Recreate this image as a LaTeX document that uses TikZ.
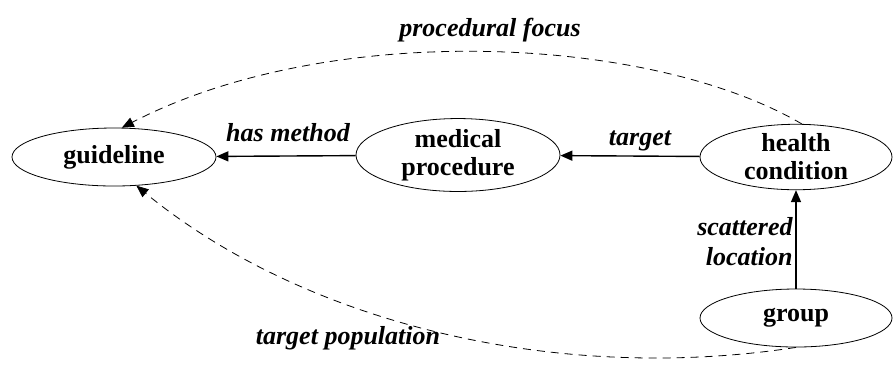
\documentclass[tikz,border=0pt]{standalone}
\usepackage{fontspec}
\setmainfont{Liberation Serif}
\usepackage{tikz}
\usetikzlibrary{arrows.meta,shapes.geometric}
\tikzset{
  concept/.style={ellipse, draw, thin, minimum width=100pt, minimum height=29pt, inner sep=0pt, align=center, font=\fontsize{13}{14}\selectfont\bfseries},
  rel/.style={-{Triangle[length=6pt,width=5pt]}, line width=0.7pt},
  hint/.style={-{Triangle[length=6pt,width=5pt]}, thin, dash pattern=on 4pt off 3pt},
  edgelabel/.style={font=\fontsize{13}{15}\selectfont\bfseries\itshape, align=right, inner sep=1pt}
}

\begin{document}
\begin{tikzpicture}[x=0.5pt,y=-0.5pt]
            \useasboundingbox (0,0) rectangle (893,372);
            \node[concept, minimum width=102pt] (guide) at (114,157) {guideline};
            \node[concept, minimum width=102pt] (proc) at (458,155) {medical\\procedure};
            \node[concept, minimum width=96pt] (health) at (796,157) {health\\condition};
            \node[concept, minimum width=96pt] (group) at (796,318) {group};
            \draw[rel] (proc) -- (guide);
            \draw[rel] (health) -- (proc);
            \draw[rel] (group) -- (health);
            \draw[hint] (health.80) .. controls (650,35) and (330,20) .. (guide.75);
            \draw[hint] (group.south) .. controls (550,385) and (300,320) .. (guide.-52);
            \node[edgelabel] (lmethod) at (288,133) {has method};
            \node[edgelabel] (ltarget) at (640,141) {target};
            \node[edgelabel, anchor=east] (lscatter) at (795,242) {scattered\\location};
            \node[edgelabel] (lfocus) at (490,30) {procedural focus};
            \node[edgelabel] (lpop) at (348,338) {target population};
        \end{tikzpicture}
\end{document}
